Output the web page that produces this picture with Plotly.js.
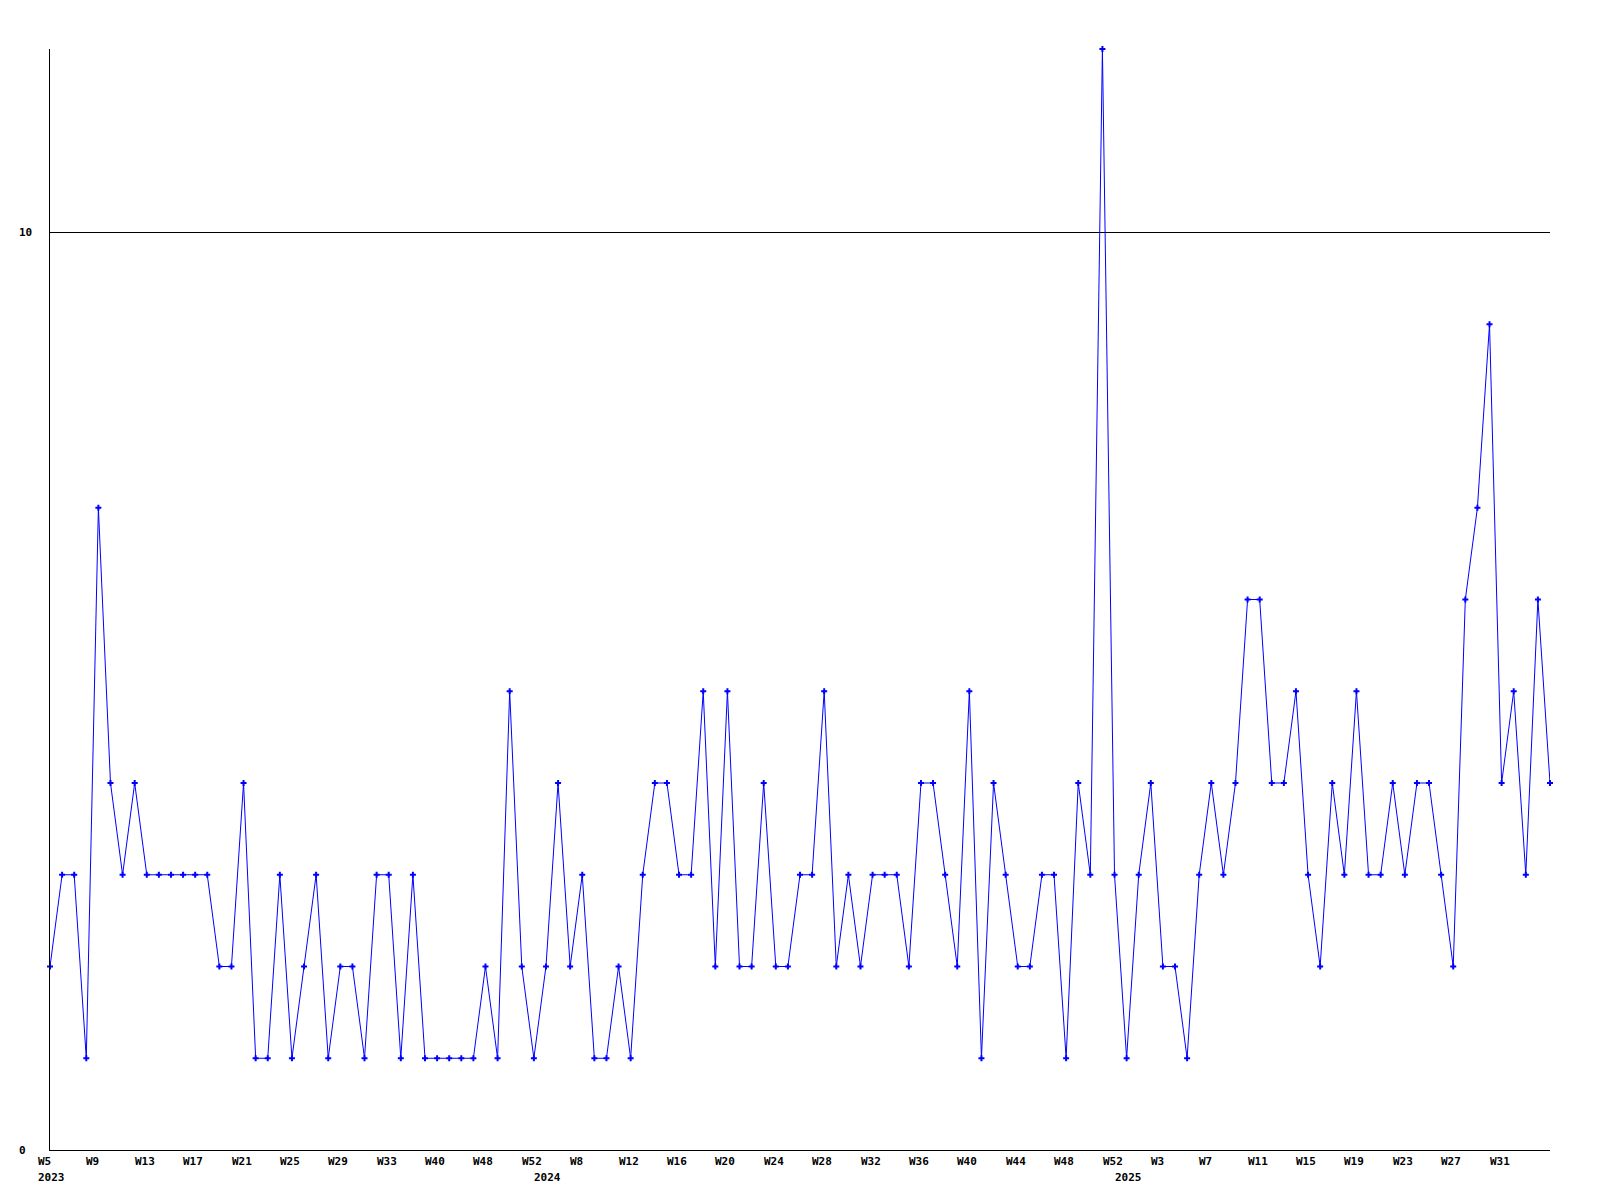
<!DOCTYPE html>
<html>
<head>
<meta charset="utf-8">
<script src="https://cdn.plot.ly/plotly-3.0.1.min.js"></script>
<style>html,body{margin:0;padding:0;background:#fff;}#chart{width:1600px;height:1200px;}</style>
</head>
<body>
<div id="chart"></div>
<script>
// weekly counts, one value per week, starting at W5 2023
const values = [2,3,3,1,7,4,3,4,3,3, 3,3,3,3,2,2,4,1,1,3, 1,2,3,1,2,2,1,3,3,1,
                3,1,1,1,1,1,2,1,5,2, 1,2,4,2,3,1,1,2,1,3, 4,4,3,3,5,2,5,2,2,4,
                2,2,3,3,5,2,3,2,3,3, 3,2,4,4,3,2,5,1,4,3, 2,2,3,3,1,4,3,12,3,1,
                3,4,2,2,1,3,4,3,4,6, 6,4,4,5,3,2,4,3,5,3, 3,4,3,4,4,3,2,6,7,9,
                4,5,3,6,4];
// tick labels shown every 4th week
const weekLabels = ['W5','W9','W13','W17','W21','W25','W29','W33','W40','W48','W52',
                    'W8','W12','W16','W20','W24','W28','W32','W36','W40','W44','W48','W52',
                    'W3','W7','W11','W15','W19','W23','W27','W31'];
const labelStep = 4;
const yearLabels = ['2023','2024','2025'];
const yearIndex = [0, 41, 89];
const yTickVals = [0, 10];

const xs = values.map((v, i) => i);
const font = {family: 'DejaVu Sans Mono', size: 11, color: '#000'};

const annotations = [];
weekLabels.forEach((t, k) => {
  annotations.push({x: k * labelStep, xref: 'x', y: 0, yref: 'paper', text: '<b>' + t + '</b>',
    showarrow: false, xanchor: 'left', yanchor: 'middle', xshift: -14, yshift: -11, font: font});
});
yearLabels.forEach((t, k) => {
  annotations.push({x: yearIndex[k], xref: 'x', y: 0, yref: 'paper', text: '<b>' + t + '</b>',
    showarrow: false, xanchor: 'left', yanchor: 'middle', xshift: -14, yshift: -27, font: font});
});
yTickVals.forEach(v => {
  annotations.push({x: 0, xref: 'paper', y: v, yref: 'y', text: '<b>' + v + '</b>',
    showarrow: false, xanchor: 'left', yanchor: 'middle', xshift: -33, font: font});
});

const trace = {
  x: xs, y: values, type: 'scatter', mode: 'lines+markers',
  line: {color: '#0000ff', width: 1},
  marker: {color: '#0000ff', size: 5, symbol: 'cross'},
  cliponaxis: false, hoverinfo: 'skip'
};

const layout = {
  width: 1600, height: 1200,
  margin: {l: 50, r: 50, t: 49, b: 50, pad: 0},
  paper_bgcolor: '#fff', plot_bgcolor: '#fff',
  showlegend: false,
  xaxis: {range: [0, values.length - 1], showgrid: false, zeroline: false, showline: true,
          linecolor: '#000', linewidth: 1, showticklabels: false, ticks: ''},
  yaxis: {range: [0, 12], tickvals: yTickVals, showgrid: true, gridcolor: '#000', gridwidth: 1,
          zeroline: false, showline: true, linecolor: '#000', linewidth: 1,
          showticklabels: false, ticks: ''},
  annotations: annotations
};

Plotly.newPlot('chart', [trace], layout, {staticPlot: true});
</script>
</body>
</html>
